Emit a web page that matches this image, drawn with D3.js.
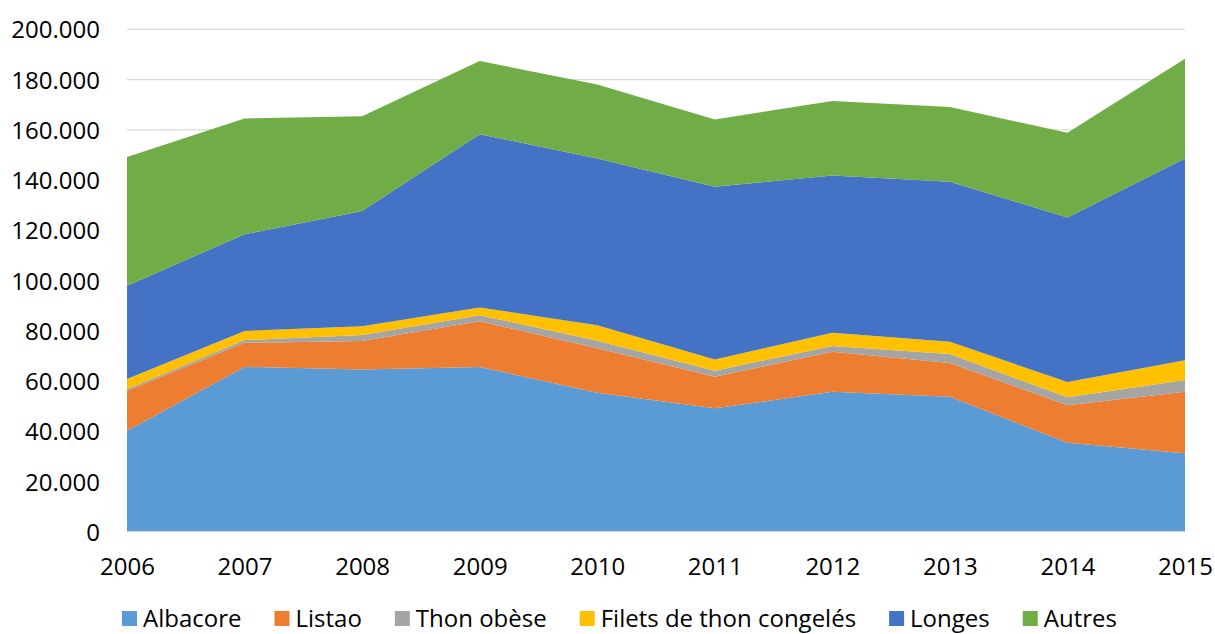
<!DOCTYPE html>
<html>
<head>
<meta charset="utf-8">
<script src="https://cdn.jsdelivr.net/npm/d3@7"></script>
<style>
  body { margin: 0; background: #fff; }
  text { font-family: "Open Sans", sans-serif; fill: #000; }
</style>
</head>
<body>
<svg id="svg" width="1215" height="634"></svg>
<script>
// data (tonnes)
let years = [2006, 2007, 2008, 2009, 2010, 2011, 2012, 2013, 2014, 2015];
let albacore = [40200, 65600, 64600, 65600, 55300, 49100, 55700, 53700, 35400, 31200];
let listao = [15900, 9600, 11300, 18200, 17700, 12600, 15900, 13500, 14900, 24500];
let thonObese = [700, 1100, 2400, 2400, 3000, 2400, 2300, 3500, 3200, 4700];
let filets = [4000, 3600, 3500, 3100, 6200, 4500, 5300, 4900, 6100, 7900];
let longes = [37100, 38500, 45900, 68900, 66400, 68700, 62600, 63700, 65500, 80300];
let autres = [51300, 46100, 37700, 29200, 29400, 26800, 29700, 29800, 33700, 39700];

let seriesNames = ["Albacore", "Listao", "Thon obèse", "Filets de thon congelés", "Longes", "Autres"];
let seriesColors = ["#5b9bd5", "#ed7d31", "#a5a5a5", "#ffc000", "#4472c4", "#70ad47"];
let yTicks = [0, 20000, 40000, 60000, 80000, 100000, 120000, 140000, 160000, 180000, 200000];

let seriesValues = [albacore, listao, thonObese, filets, longes, autres];

let svg = d3.select("#svg");

let plotLeft = 127, plotRight = 1185, plotTop = 29.3, plotBottom = 531.7;

let x = d3.scaleLinear().domain([2006, 2015]).range([plotLeft, plotRight]);
let y = d3.scaleLinear().domain([0, 200000]).range([plotBottom, plotTop]);

// rows for d3.stack
let rows = years.map((yr, i) => {
    let row = { year: yr };
    seriesNames.forEach((name, j) => { row[name] = seriesValues[j][i]; });
    return row;
});

let stacked = d3.stack().keys(seriesNames)(rows);

// gridlines
svg.append("g")
    .selectAll("line")
    .data(yTicks.slice(1))
    .enter()
    .append("line")
    .attr("x1", plotLeft)
    .attr("x2", plotRight)
    .attr("y1", d => y(d))
    .attr("y2", d => y(d))
    .style("stroke", "#d9d9d9")
    .style("stroke-width", 1.3);

let area = d3.area()
    .x(d => x(d.data.year))
    .y0(d => y(d[0]))
    .y1(d => y(d[1]));

svg.append("g")
    .selectAll("path")
    .data(stacked)
    .enter()
    .append("path")
    .attr("d", area)
    .style("fill", (d, i) => seriesColors[i]);

// baseline
svg.append("line")
    .attr("x1", plotLeft).attr("x2", plotRight)
    .attr("y1", y(0)).attr("y2", y(0))
    .style("stroke", "#d9d9d9")
    .style("stroke-width", 1.3);

let fmt = d => d == 0 ? "0" : d3.format(",")(d).replace(/,/g, ".");

// y axis labels
svg.append("g")
    .attr("transform", `translate(${plotLeft - 27},0)`)
    .call(d3.axisLeft(y).tickValues(yTicks).tickFormat(fmt).tickSize(0).tickPadding(0))
    .call(g => g.select(".domain").remove())
    .selectAll("text")
    .attr("dy", "0.36em")
    .style("font-size", "24px");

// x axis labels
svg.append("g")
    .attr("transform", `translate(0,${plotBottom + 25})`)
    .call(d3.axisBottom(x).tickValues(years).tickFormat(d3.format("d")).tickSize(0).tickPadding(0))
    .call(g => g.select(".domain").remove())
    .selectAll("text")
    .attr("dy", "0.75em")
    .style("font-size", "24px");

// legend
let legend = svg.append("g");
let items = legend.selectAll("g")
    .data(seriesNames)
    .enter()
    .append("g");

items.append("rect")
    .attr("width", 15)
    .attr("height", 15)
    .attr("y", 611)
    .style("fill", (d, i) => seriesColors[i]);

items.append("text")
    .attr("x", 21)
    .attr("y", 627)
    .style("font-size", "24px")
    .text(d => d);

let gap = 33;
let pos = 0;
let offsets = [];
items.each(function() {
    offsets.push(pos);
    let w = d3.select(this).select("text").node().getComputedTextLength();
    pos += 21 + w + gap;
});
let start = 122;
items.attr("transform", (d, i) => `translate(${start + offsets[i]},0)`);
</script>
</body>
</html>
